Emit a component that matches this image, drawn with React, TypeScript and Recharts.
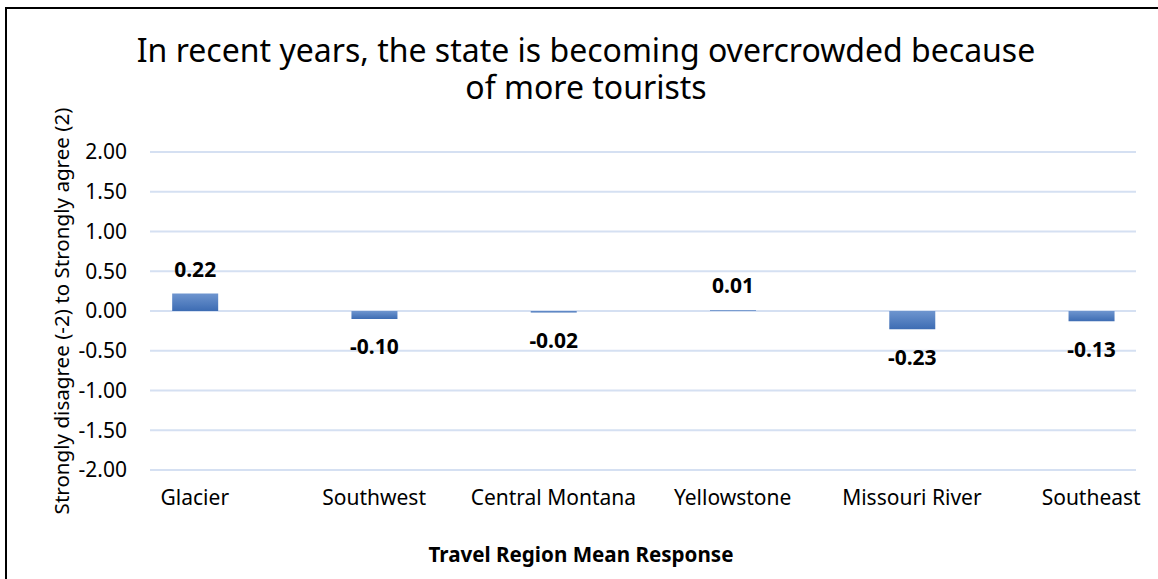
import React from 'react';
import {
  BarChart,
  Bar,
  XAxis,
  YAxis,
  CartesianGrid,
  LabelList,
} from 'recharts';

// Travel regions and their mean agreement scores
const categories = [
  'Glacier',
  'Southwest',
  'Central Montana',
  'Yellowstone',
  'Missouri River',
  'Southeast',
];
const meanResponse = [0.22, -0.1, -0.02, 0.01, -0.23, -0.13];
const yTicks = [-2, -1.5, -1, -0.5, 0, 0.5, 1, 1.5, 2];

const titleLines = [
  'In recent years, the state is becoming overcrowded because',
  'of more tourists',
];
const yAxisTitle = 'Strongly disagree (-2) to Strongly agree (2)';
const xAxisTitle = 'Travel Region Mean Response';

const data = categories.map((name, i) => ({ idx: i, name, value: meanResponse[i] }));
const xTicks = categories.map((_, i) => i);

const FONT = '"Noto Sans", "Open Sans", sans-serif';
const W = 1158;
const H = 579;

const ValueLabel = (props: any) => {
  const { x, y, width, height, value } = props;
  const top = Math.min(y, y + height);
  const bottom = Math.max(y, y + height);
  const cx = x + width / 2;
  const cy = value >= 0 ? top - 25 : bottom + 27.5;
  return (
    <text
      x={cx}
      y={cy}
      textAnchor="middle"
      dominantBaseline="central"
      fontFamily={FONT}
      fontSize={21}
      fontWeight={700}
      fill="#000"
    >
      {Number(value).toFixed(2)}
    </text>
  );
};

const YTitle = (props: any) => {
  const { viewBox } = props;
  const cx = 61;
  const cy = viewBox.y + viewBox.height / 2;
  return (
    <text
      x={cx}
      y={cy}
      transform={`rotate(-90 ${cx} ${cy})`}
      textAnchor="middle"
      dominantBaseline="central"
      fontFamily={FONT}
      fontSize={20.6}
      fill="#000"
    >
      {yAxisTitle}
    </text>
  );
};

const XTitle = () => (
  <text
    x={581}
    y={562}
    textAnchor="middle"
    fontFamily={FONT}
    fontSize={20.6}
    fontWeight={700}
    fill="#000"
  >
    {xAxisTitle}
  </text>
);

export default function App() {
  return (
    <div
      style={{
        position: 'absolute',
        left: 0,
        top: 0,
        width: W,
        height: H,
        background: '#fff',
        overflow: 'hidden',
        fontFamily: FONT,
      }}
    >
      <div
        style={{
          position: 'absolute',
          left: 5,
          top: 7,
          width: W + 20,
          height: H + 20,
          border: '2px solid #000',
          boxSizing: 'border-box',
        }}
      />
      <svg
        width={W}
        height={110}
        style={{ position: 'absolute', left: 0, top: 0 }}
      >
        {titleLines.map((t, i) => (
          <text
            key={t}
            x={586}
            y={62 + i * 37}
            textAnchor="middle"
            fontFamily={FONT}
            fontSize={32}
            fill="#000"
          >
            {t}
          </text>
        ))}
      </svg>
      <div style={{ position: 'absolute', left: 0, top: 0 }}>
        <BarChart
          width={W}
          height={H}
          data={data}
          margin={{ top: 152, right: 22, bottom: 0, left: 0 }}
        >
          <defs>
            <linearGradient id="barFill" x1="0" y1="0" x2="0" y2="1">
              <stop offset="0%" stopColor="#6e95cf" />
              <stop offset="100%" stopColor="#3d6cb3" />
            </linearGradient>
          </defs>
          <CartesianGrid vertical={false} stroke="#d5e0f2" strokeWidth={2} />
          <XAxis
            dataKey="idx"
            type="number"
            domain={[-0.25, 5.25]}
            ticks={xTicks}
            interval={0}
            tickFormatter={(i: number) => categories[i] ?? ''}
            axisLine={false}
            tickLine={false}
            tickSize={0}
            tickMargin={20}
            height={109}
            tick={{ fontFamily: FONT, fontSize: 21, fill: '#000' }}
            label={{ content: <XTitle /> }}
          />
          <YAxis
            type="number"
            domain={[-2, 2]}
            ticks={yTicks}
            interval={0}
            tickFormatter={(v: number) => v.toFixed(2)}
            axisLine={false}
            tickLine={false}
            tickSize={0}
            tickMargin={23}
            width={150}
            tick={{ fontFamily: FONT, fontSize: 21, fill: '#000' }}
            label={{ content: <YTitle /> }}
          />
          <Bar dataKey="value" fill="url(#barFill)" barSize={46} isAnimationActive={false}>
            <LabelList dataKey="value" content={<ValueLabel />} />
          </Bar>
        </BarChart>
      </div>
    </div>
  );
}
